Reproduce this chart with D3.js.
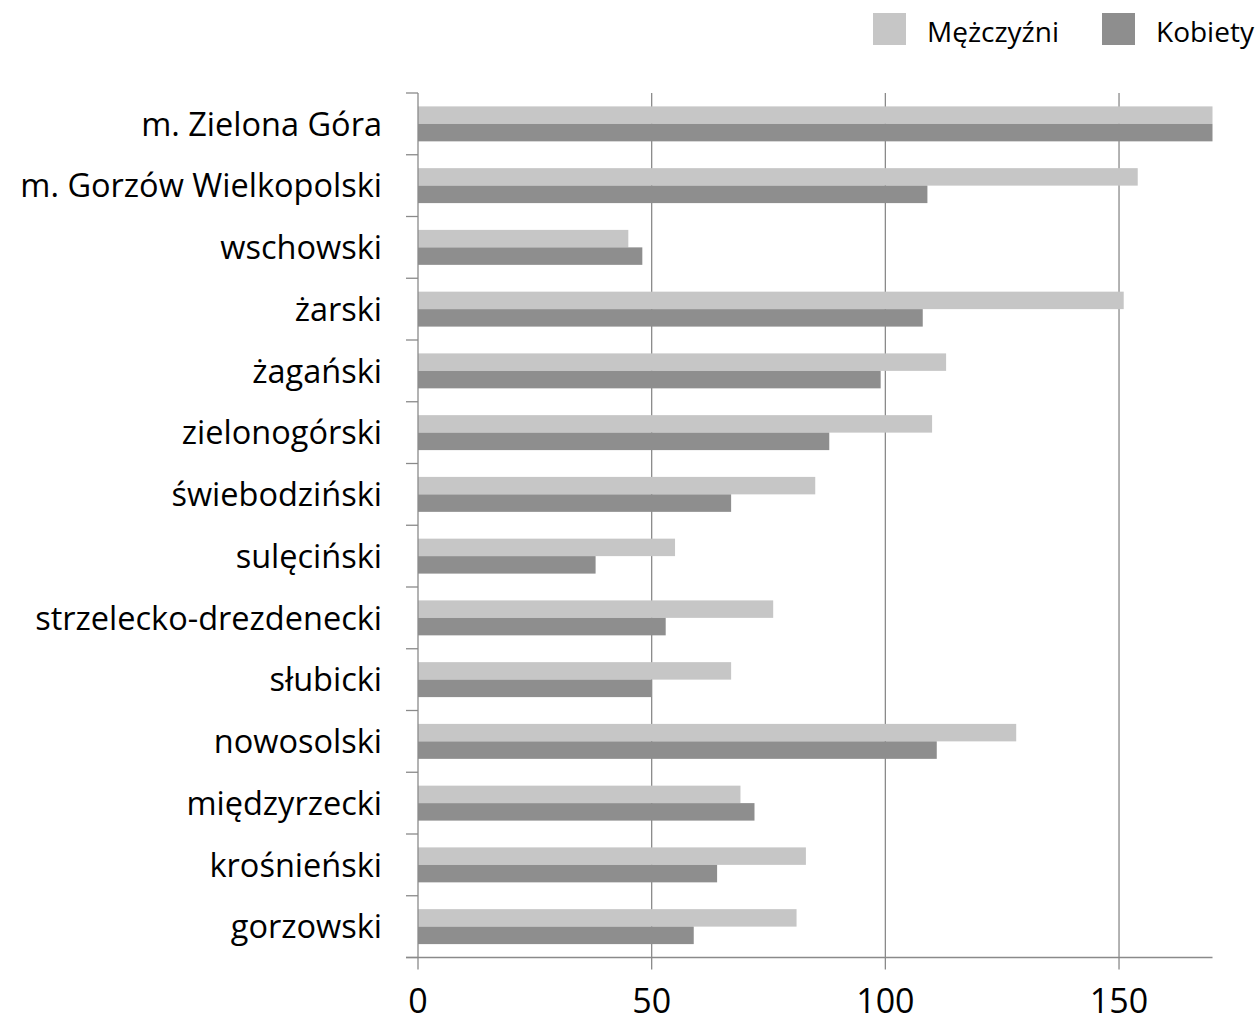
<!DOCTYPE html>
<html><head><meta charset="utf-8">
<script src="https://cdn.jsdelivr.net/npm/d3@7"></script>
<style>body{margin:0;background:#fff}svg text{font-family:"Open Sans",sans-serif;fill:#000}</style>
</head><body><div id="chart"></div>
<script>
const categories = ["m. Zielona Góra","m. Gorzów Wielkopolski","wschowski","żarski","żagański","zielonogórski","świebodziński","sulęciński","strzelecko-drezdenecki","słubicki","nowosolski","międzyrzecki","krośnieński","gorzowski"];
const men   = [170,154,45,151,113,110,85,55,76,67,128,69,83,81];
const women = [170,109,48,108,99,88,67,38,53,50,111,72,64,59];
const seriesNames = ["Mężczyźni","Kobiety"];
const seriesColors = ["#c6c6c6","#8e8e8e"];
const xTicks = [0,50,100,150];

const W=1255,H=1020;
const pL=418,pR=1212.5,pT=93,pB=957.5;
const svg=d3.select("#chart").append("svg").attr("width",W).attr("height",H);
const x=d3.scaleLinear().domain([0,170]).range([pL,pR]);
const y=d3.scaleBand().domain(categories).range([pT,pB]).paddingInner(0.434).paddingOuter(0.217);
const ySub=d3.scaleBand().domain([0,1]).range([0,y.bandwidth()]);
const grid="#8a8a8a";

// gridlines
svg.append("g").selectAll("line").data(xTicks.filter(d=>d>0)).join("line")
  .attr("x1",d=>x(d)).attr("x2",d=>x(d)).attr("y1",pT).attr("y2",pB)
  .attr("stroke",grid).attr("stroke-width",1.3);

// bars
const data=categories.map((c,i)=>({c,vals:[men[i],women[i]]}));
const g=svg.append("g");
data.forEach(d=>{
  d.vals.forEach((v,k)=>{
    g.append("rect").attr("x",x(0)).attr("y",y(d.c)+ySub(k))
     .attr("width",x(v)-x(0)).attr("height",ySub.bandwidth())
     .attr("fill",seriesColors[k]);
  });
});

// y axis
const yBand=d3.scaleBand().domain(categories).range([pT,pB]);
const ya=svg.append("g");
ya.append("line").attr("x1",pL).attr("x2",pL).attr("y1",pT).attr("y2",pB).attr("stroke",grid).attr("stroke-width",1.3);
const yTickPos=categories.map(c=>yBand(c)).concat([pB]);
ya.selectAll("line.t").data(yTickPos).join("line").attr("class","t")
  .attr("x1",pL-12).attr("x2",pL).attr("y1",d=>d).attr("y2",d=>d).attr("stroke",grid).attr("stroke-width",1.3);
ya.selectAll("text").data(categories).join("text")
  .attr("x",382).attr("y",d=>yBand(d)+yBand.bandwidth()/2).attr("dy","0.36em")
  .attr("text-anchor","end").attr("font-size",32.5).text(d=>d);

// x axis
const xa=svg.append("g");
xa.append("line").attr("x1",pL-12).attr("x2",pR).attr("y1",pB).attr("y2",pB).attr("stroke",grid).attr("stroke-width",1.3);
xa.selectAll("line.t").data(xTicks).join("line").attr("class","t")
  .attr("x1",d=>x(d)).attr("x2",d=>x(d)).attr("y1",pB).attr("y2",pB+12).attr("stroke",grid).attr("stroke-width",1.3);
xa.selectAll("text").data(xTicks).join("text")
  .attr("x",d=>x(d)).attr("y",1013).attr("text-anchor","middle").attr("font-size",34).text(d=>d);

// legend
const lg=svg.append("g");
const lx=[873,1102];
seriesNames.forEach((n,k)=>{
  lg.append("rect").attr("x",lx[k]).attr("y",13).attr("width",33).attr("height",32).attr("fill",seriesColors[k]);
  lg.append("text").attr("x",lx[k]+54).attr("y",42).attr("font-size",28).text(n);
});
</script></body></html>
